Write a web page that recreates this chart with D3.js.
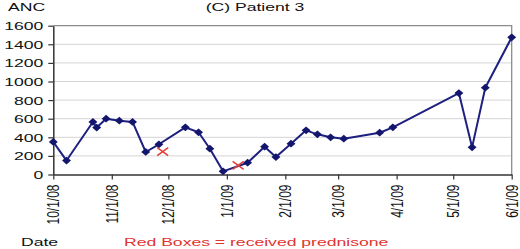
<!DOCTYPE html>
<html>
<head>
<meta charset="utf-8">
<script src="https://cdn.jsdelivr.net/npm/d3@7"></script>
<style>
  html, body { margin: 0; padding: 0; background: #fff; }
  svg { display: block; }
  text { font-family: "Liberation Sans", Arial, sans-serif; }
</style>
</head>
<body>
<svg id="chart" width="520" height="249"></svg>
<script>
// ---- data ----
const dates = ["2008-10-01","2008-10-08","2008-10-22","2008-10-24","2008-10-29","2008-11-05","2008-11-12","2008-11-19","2008-11-26","2008-12-10","2008-12-17","2008-12-23","2008-12-30","2009-01-12","2009-01-21","2009-01-27","2009-02-04","2009-02-12","2009-02-18","2009-02-25","2009-03-04","2009-03-23","2009-03-30","2009-05-04","2009-05-11","2009-05-18","2009-06-01"];
const anc = [350,150,565,505,600,578,565,242,325,507,454,277,34,127,299,188,331,475,432,400,385,449,507,876,292,933,1475];
const redDates = ["2008-11-28","2009-01-07"];
const redAnc = [245,99];
const xTickDates = ["2008-10-01","2008-11-01","2008-12-01","2009-01-01","2009-02-01","2009-03-01","2009-04-01","2009-05-01","2009-06-01"];
const xTickLabels = ["10/1/08","11/1/08","12/1/08","1/1/09","2/1/09","3/1/09","4/1/09","5/1/09","6/1/09"];
const yTicks = [0,200,400,600,800,1000,1200,1400,1600];
const title = "(C) Patient 3";
const yTitle = "ANC";
const xTitle = "Date";
const note = "Red Boxes = received prednisone";

// ---- layout ----
const parse = d3.utcParse("%Y-%m-%d");
const L = 53.3, R = 511.7, T = 25.7, B = 174.5;
const SX = 1.6; // horizontal stretch of text in the reference

const x = d3.scaleUtc().domain([parse(xTickDates[0]), parse(xTickDates[xTickDates.length-1])]).range([L, R]);
const y = d3.scaleLinear().domain([0, 1600]).range([B, T]);

const svg = d3.select("#chart");

// gridlines
svg.append("g").selectAll("line").data(yTicks.filter(v => v > 0 && v < 1600)).join("line")
  .attr("x1", L).attr("x2", R).attr("y1", d => y(d)).attr("y2", d => y(d))
  .attr("stroke", "#d4d4d4").attr("stroke-width", 1);

// frame top/right
svg.append("path")
  .attr("d", `M${L},${y(1600)}H${R}V${B}`)
  .attr("fill", "none").attr("stroke", "#8c8c8c").attr("stroke-width", 1.3);

// y axis
const yAxis = svg.append("g").attr("transform", `translate(${L},0)`)
  .call(d3.axisLeft(y).tickValues(yTicks).tickSize(5).tickSizeOuter(0).tickPadding(0)
    .tickFormat(d3.format("d")));
yAxis.select(".domain").attr("stroke", "#333").attr("stroke-width", 1.5);
yAxis.selectAll(".tick line").attr("stroke", "#333").attr("stroke-width", 1.2);
yAxis.selectAll(".tick text")
  .attr("x", 0).attr("dy", "0.36em")
  .attr("transform", `translate(-10,0) scale(${SX},1)`)
  .attr("text-anchor", "end")
  .attr("font-size", 11).attr("fill", "#111")
  .attr("font-family", "Liberation Sans, Arial, sans-serif");

// x axis
const xAxis = svg.append("g").attr("transform", `translate(0,${B})`)
  .call(d3.axisBottom(x).tickValues(xTickDates.map(parse)).tickSize(5).tickSizeOuter(0)
    .tickFormat((d, i) => xTickLabels[i]));
xAxis.select(".domain").attr("stroke", "#333").attr("stroke-width", 1.5);
xAxis.selectAll(".tick line").attr("stroke", "#333").attr("stroke-width", 1.2);
xAxis.selectAll(".tick text")
  .attr("x", 0).attr("y", 0).attr("dy", "0.3em")
  .attr("transform", `translate(0.5,10) scale(1.4,1) rotate(-90)`)
  .attr("text-anchor", "end")
  .attr("font-size", 12).attr("fill", "#111")
  .attr("font-family", "Liberation Sans, Arial, sans-serif");

// line
const pts = dates.map((d, i) => ({ d: parse(d), v: anc[i] }));
svg.append("path").datum(pts)
  .attr("fill", "none").attr("stroke", "#1d2080").attr("stroke-width", 2)
  .attr("stroke-linejoin", "round")
  .attr("d", d3.line().x(p => x(p.d)).y(p => y(p.v)));

// diamond markers
const diamond = d3.symbol(d3.symbolSquare, 30)();
svg.append("g").selectAll("path").data(pts).join("path")
  .attr("d", diamond)
  .attr("transform", p => `translate(${x(p.d)},${y(p.v)}) scale(1.15,1) rotate(45)`)
  .attr("fill", "#14166e");

// red X markers
const reds = redDates.map((d, i) => ({ d: parse(d), v: redAnc[i] }));
svg.append("g").selectAll("path").data(reds).join("path")
  .attr("d", "M-5.5,-4L5.5,4M-5.5,4L5.5,-4")
  .attr("transform", p => `translate(${x(p.d)},${y(p.v)})`)
  .attr("stroke", "#e5403a").attr("stroke-width", 1.6).attr("fill", "none");

// texts
function stretchedText(tx, ty, str, opts) {
  return svg.append("text")
    .attr("transform", `translate(${tx},${ty}) scale(${SX},1)`)
    .attr("font-size", opts.size || 11)
    .attr("fill", opts.fill || "#111")
    .attr("text-anchor", opts.anchor || "start")
    .text(str);
}
stretchedText(8, 11, yTitle, {});
stretchedText(255, 11, title, { anchor: "middle" });
stretchedText(21, 245.5, xTitle, {});
stretchedText(124, 245.5, note, { fill: "#e0342f" });
</script>
</body>
</html>
